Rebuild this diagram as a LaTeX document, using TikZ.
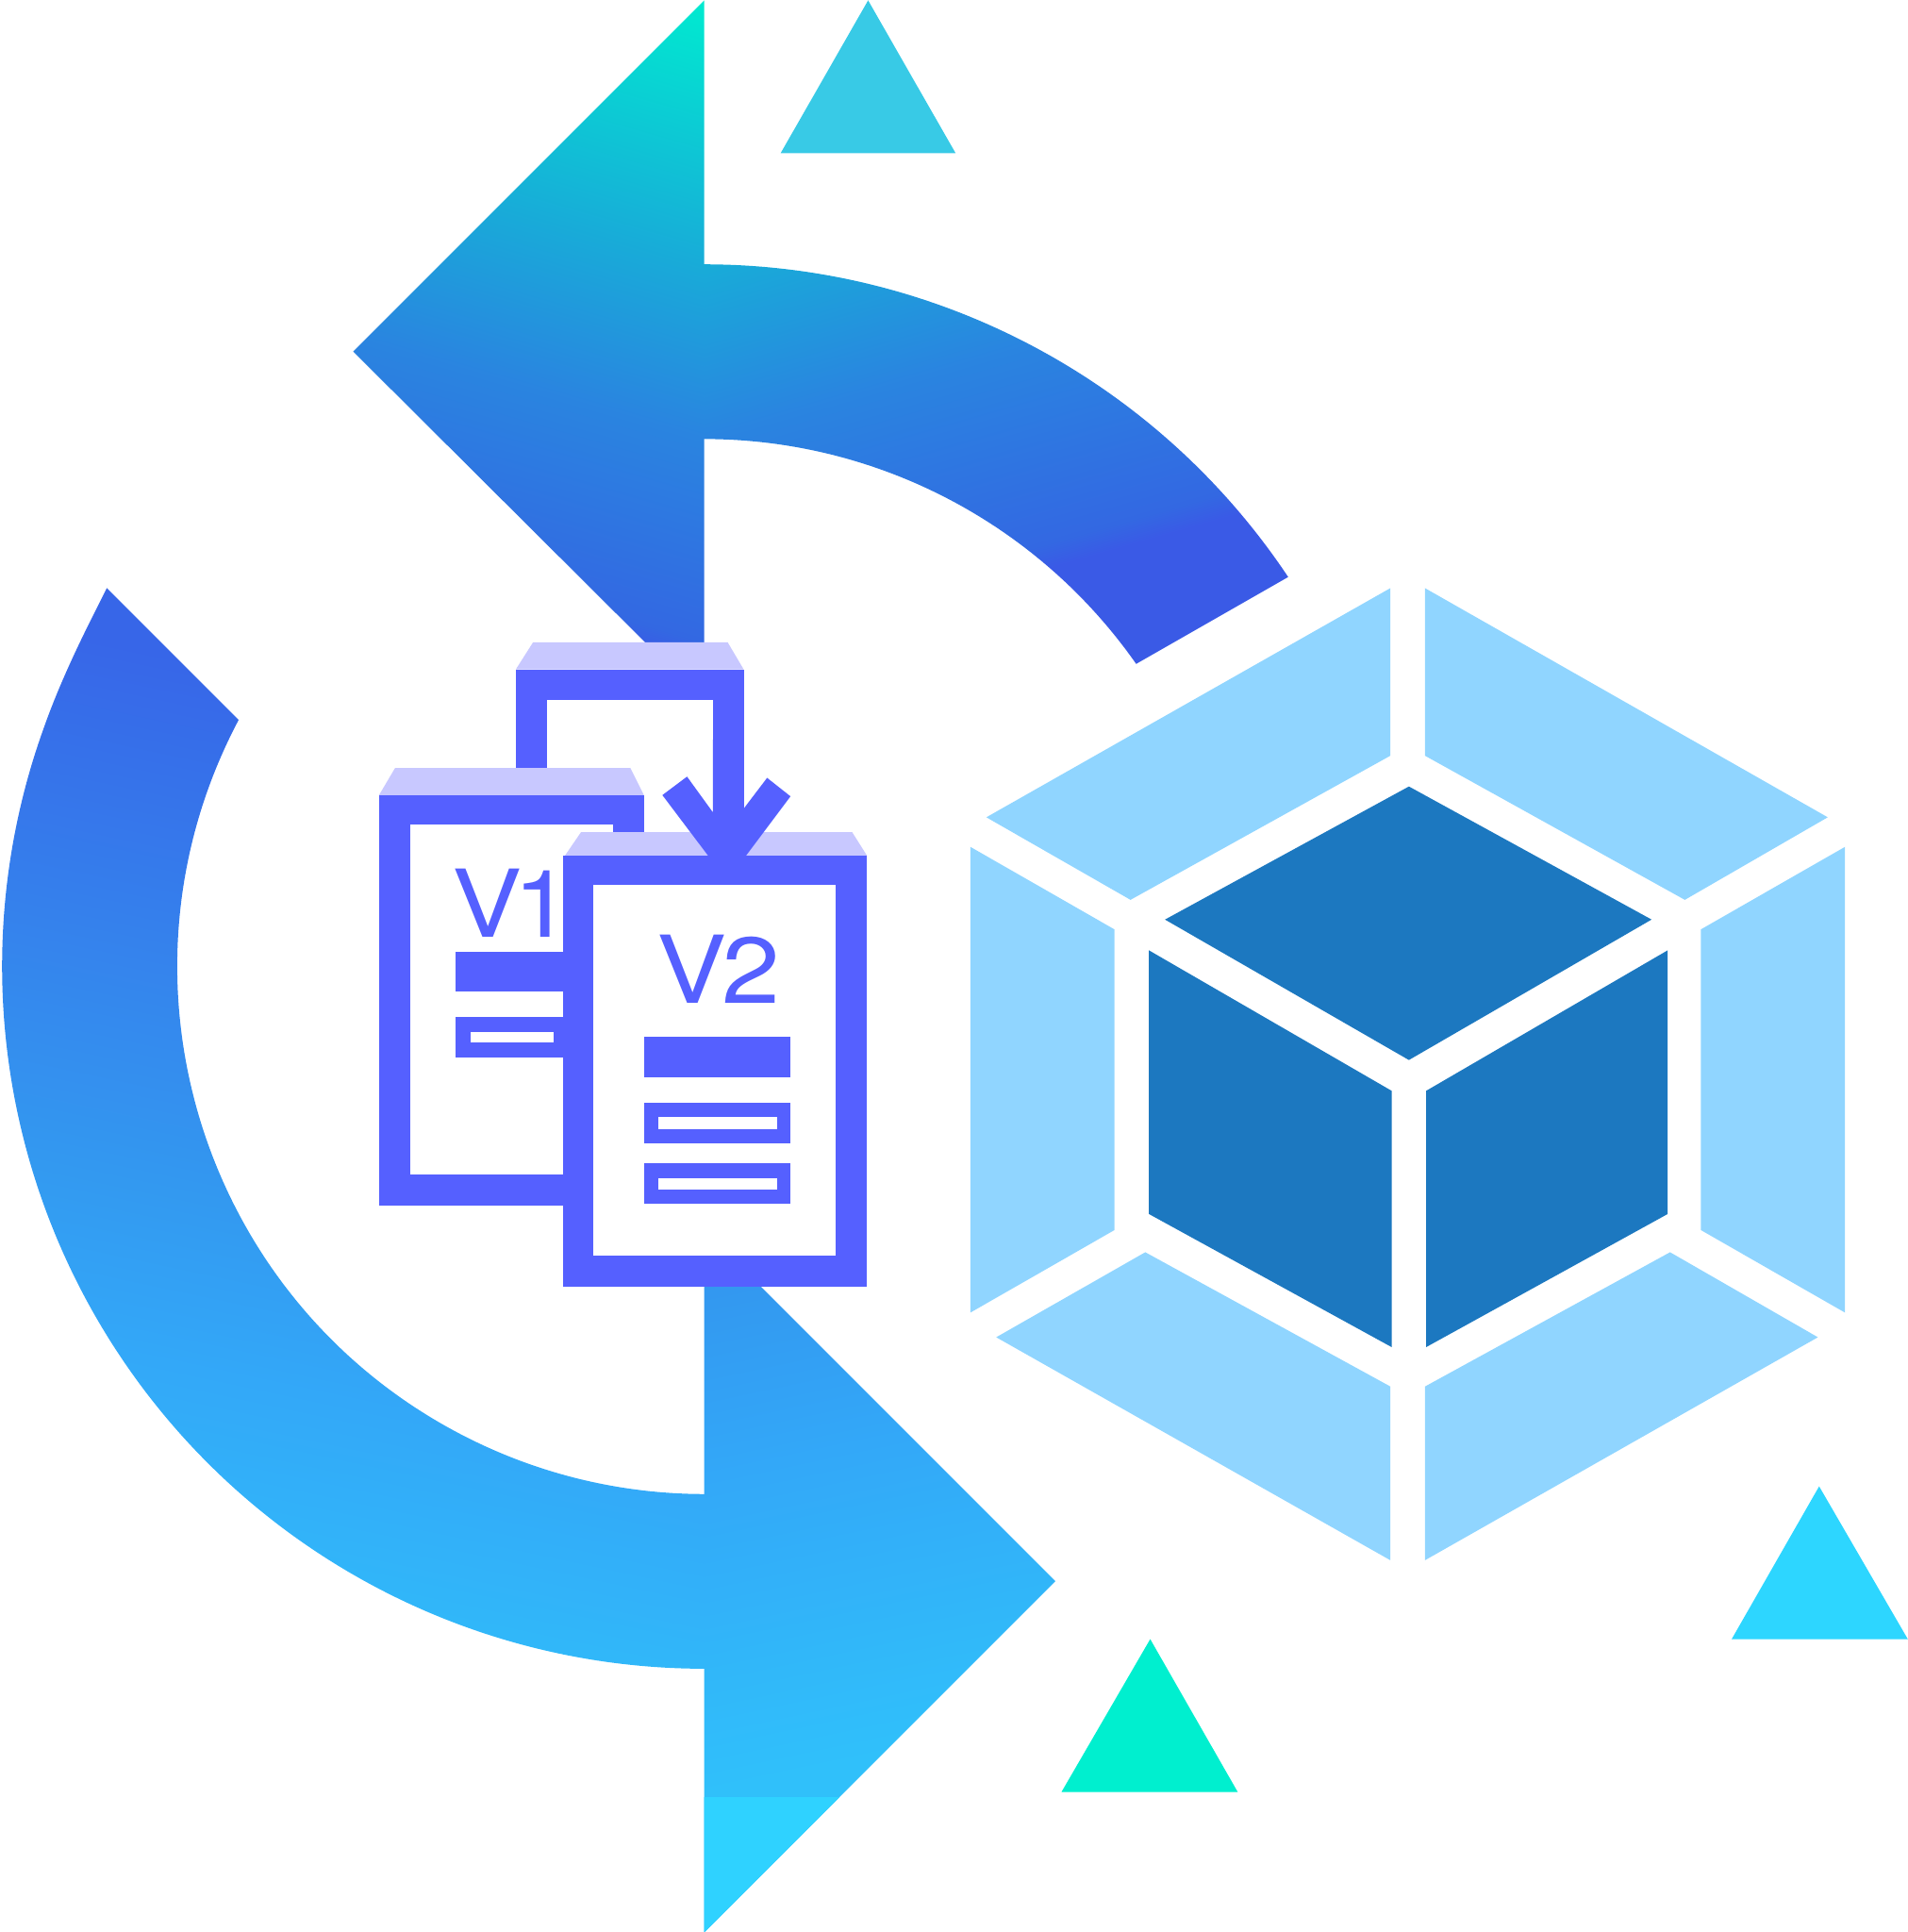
\documentclass[tikz,border=0pt]{standalone}
\usepackage{fontspec}
\setmainfont{TeX Gyre Heros}
\definecolor{docblue}{HTML}{5560FF}
\definecolor{doclid}{HTML}{C8C8FF}
\definecolor{hexlight}{HTML}{90D5FF}
\definecolor{hexdark}{HTML}{1C78C0}
\definecolor{triA}{HTML}{38CAE6}
\definecolor{triB}{HTML}{2DD6FF}
\definecolor{triC}{HTML}{00EFCF}
\definecolor{c1}{HTML}{00EAD0}
\definecolor{c1b}{HTML}{18ACD8}
\definecolor{c2}{HTML}{2A84E0}
\definecolor{c2b}{HTML}{3368E2}
\definecolor{c3}{HTML}{3A5AE6}
\definecolor{d1}{HTML}{3766E8}
\definecolor{d1b}{HTML}{3399F0}
\definecolor{d2}{HTML}{33A8F8}
\definecolor{d3}{HTML}{30C0FA}
\definecolor{d4}{HTML}{2FD2FF}
\pgfdeclareverticalshading{upgrad}{100bp}{
 color(0bp)=(c3); color(43bp)=(c3); color(43.7bp)=(c2b); color(49.35bp)=(c2); color(54.25bp)=(c1b); color(61.5bp)=(c1); color(100bp)=(c1)}
\pgfdeclareverticalshading{lowgrad}{100bp}{
 color(0bp)=(d3); color(41bp)=(d3); color(46.5bp)=(d2); color(49.5bp)=(d1b); color(58.85bp)=(d1); color(100bp)=(d1)}
\tikzset{
 hexL/.style={fill=hexlight},
 hexD/.style={fill=hexdark},
 doc/.style={fill=docblue},
 lid/.style={fill=doclid},
 paper/.style={fill=white},
 vlabel/.style={anchor=base west,inner sep=0pt,text=docblue,xscale=1.12,font=\fontsize{76}{76}\selectfont}
}
\begin{document}
\begin{tikzpicture}[x=1pt,y=-1pt]
\useasboundingbox (-0.7,-0.3) rectangle (1547.5,1567.7);
% upper arrow: head
\begin{scope}
\clip (571,0) -- (286,285) -- (524,522) -- (571,522) -- cycle;
\begin{scope}[transform canvas={shift={(571pt,-337pt)},rotate=-16}]
\shade[shading=upgrad] (-1000pt,-700pt) rectangle (1000pt,700pt);
\end{scope}
\end{scope}
% upper arrow: arc
\begin{scope}
\clip (570.5,356) -- (571,356) arc[start angle=-90,end angle=-35,radius=428] -- (1045,468) arc[start angle=-33.7,end angle=-90,radius=570] -- (570.5,214) -- cycle;
\begin{scope}[transform canvas={shift={(571pt,-337pt)},rotate=16}]
\shade[shading=upgrad] (-1000pt,-700pt) rectangle (1000pt,700pt);
\end{scope}
\end{scope}
% lower arrow: arc
\begin{scope}
\clip (571.5,1354) -- (571,1354) arc[start angle=90,end angle=200,radius=570] .. controls (51,545) and (73,503) .. (86,477) -- (193,584) arc[start angle=207.9,end angle=90,radius=428] -- (571.5,1212) -- cycle;
\begin{scope}[transform canvas={shift={(571pt,-1036pt)},rotate=-12}]
\shade[shading=lowgrad] (-1500pt,-1140pt) rectangle (1500pt,1140pt);
\end{scope}
\end{scope}
% lower arrow: head
\begin{scope}
\clip (571,1044) -- (617,1044) -- (856,1283) -- (571,1568) -- cycle;
\begin{scope}[transform canvas={shift={(571pt,-1036pt)},rotate=12}]
\shade[shading=lowgrad] (-1500pt,-1140pt) rectangle (1500pt,1140pt);
\end{scope}
\fill[fill=d4] (500,1458.5) rectangle (800,1568);
\end{scope}
% triangles
\fill[triA] (704,0) -- (775,124) -- (633,124) -- cycle;
\fill[triB] (1476,1206) -- (1548,1330) -- (1405,1330) -- cycle;
\fill[triC] (933,1330) -- (1004,1454) -- (861,1454) -- cycle;
% hexagon
\fill[hexL] (1128,477) -- (1128,613) -- (917,730) -- (800,663) -- cycle;
\fill[hexL] (1156,477) -- (1156,613) -- (1367,730) -- (1483,663) -- cycle;
\fill[hexL] (787,687) -- (904,754) -- (904,998) -- (787,1065) -- cycle;
\fill[hexL] (1497,687) -- (1380,754) -- (1380,998) -- (1497,1065) -- cycle;
\fill[hexL] (929,1016) -- (1128,1125) -- (1128,1266) -- (808,1085) -- cycle;
\fill[hexL] (1355,1016) -- (1156,1125) -- (1156,1266) -- (1475,1085) -- cycle;
\fill[hexD] (1143,638) -- (1340,746) -- (1143,860) -- (945,746) -- cycle;
\fill[hexD] (932,771) -- (1129,885) -- (1129,1093) -- (932,985) -- cycle;
\fill[hexD] (1353,771) -- (1157,885) -- (1157,1093) -- (1353,985) -- cycle;
% back document
\fill[lid] (418,543) -- (432,521) -- (590,521) -- (603,543) -- cycle;
\fill[doc] (418,543) rectangle (603,700);
\fill[paper] (443,568) rectangle (578,700);
\fill[paper] (578,659) rectangle (603,700);
% V1 document
\fill[lid] (307,645) -- (320,623) -- (511,623) -- (522,645) -- cycle;
\fill[doc] (307,645) rectangle (522,978);
\fill[paper] (332,669) rectangle (497,953);
\fill[paper] (497,675) rectangle (522,953);
\fill[doc] (497,953) rectangle (522,978);
\node[vlabel] (vone) at (366,760) {V\kern-6pt 1};
\fill[doc] (369,772) rectangle (456,804);
\fill[doc] (369,825) rectangle (456,858);
\fill[paper] (381,837) rectangle (449,846);
% V2 document
\fill[lid] (458,694) -- (471,675) -- (691,675) -- (703,694) -- cycle;
\fill[doc] (456,694) rectangle (703,1044);
\fill[paper] (481,718) rectangle (678,1019);
\node[vlabel] (vtwo) at (532,814) {V\kern-3pt 2};
\fill[doc] (522,841) rectangle (641,874);
\fill[doc] (522,895) rectangle (641,928);
\fill[paper] (534,906) rectangle (630,916);
\fill[doc] (522,944) rectangle (641,977);
\fill[paper] (534,956) rectangle (630,965);
% arrow between documents
\fill[doc] (578,600) -- (603,600) -- (603,656) -- (622,631) -- (641,646) -- (605,694) -- (574,694) -- (537,645) -- (557,630) -- (578,659) -- cycle;
\end{tikzpicture}
\end{document}
